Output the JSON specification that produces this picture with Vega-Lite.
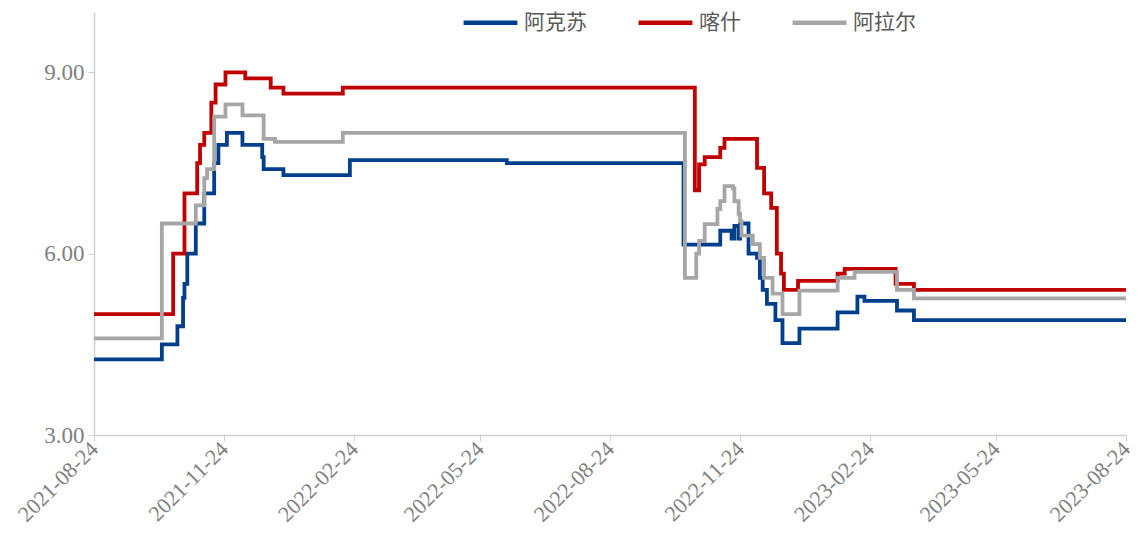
{
  "$schema": "https://vega.github.io/schema/vega-lite/v6.json",
  "autosize": {"type": "none"},
  "padding": {"left": 94, "top": 12, "right": 11, "bottom": 111},
  "width": 1032,
  "height": 423,
  "background": "white",
  "config": {"view": {"stroke": null}},
  "datasets": {
    "s": [
      {"date": "2021-08-24", "city": "阿克苏", "v": 4.25},
      {"date": "2021-10-11", "city": "阿克苏", "v": 4.5},
      {"date": "2021-10-22", "city": "阿克苏", "v": 4.8},
      {"date": "2021-10-26", "city": "阿克苏", "v": 5.27},
      {"date": "2021-10-27", "city": "阿克苏", "v": 5.5},
      {"date": "2021-10-29", "city": "阿克苏", "v": 6.0},
      {"date": "2021-11-04", "city": "阿克苏", "v": 6.5},
      {"date": "2021-11-10", "city": "阿克苏", "v": 7.0},
      {"date": "2021-11-17", "city": "阿克苏", "v": 7.5},
      {"date": "2021-11-20", "city": "阿克苏", "v": 7.8},
      {"date": "2021-11-26", "city": "阿克苏", "v": 8.0},
      {"date": "2021-12-07", "city": "阿克苏", "v": 7.8},
      {"date": "2021-12-21", "city": "阿克苏", "v": 7.6},
      {"date": "2021-12-22", "city": "阿克苏", "v": 7.4},
      {"date": "2022-01-05", "city": "阿克苏", "v": 7.3},
      {"date": "2022-02-21", "city": "阿克苏", "v": 7.55},
      {"date": "2022-06-12", "city": "阿克苏", "v": 7.5},
      {"date": "2022-10-15", "city": "阿克苏", "v": 6.15},
      {"date": "2022-11-10", "city": "阿克苏", "v": 6.38},
      {"date": "2022-11-18", "city": "阿克苏", "v": 6.25},
      {"date": "2022-11-20", "city": "阿克苏", "v": 6.46},
      {"date": "2022-11-23", "city": "阿克苏", "v": 6.25},
      {"date": "2022-11-24", "city": "阿克苏", "v": 6.5},
      {"date": "2022-11-30", "city": "阿克苏", "v": 6.0},
      {"date": "2022-12-06", "city": "阿克苏", "v": 5.93},
      {"date": "2022-12-08", "city": "阿克苏", "v": 5.6},
      {"date": "2022-12-10", "city": "阿克苏", "v": 5.4},
      {"date": "2022-12-13", "city": "阿克苏", "v": 5.17},
      {"date": "2022-12-19", "city": "阿克苏", "v": 4.9},
      {"date": "2022-12-24", "city": "阿克苏", "v": 4.52},
      {"date": "2023-01-05", "city": "阿克苏", "v": 4.76},
      {"date": "2023-02-01", "city": "阿克苏", "v": 5.03},
      {"date": "2023-02-15", "city": "阿克苏", "v": 5.29},
      {"date": "2023-02-20", "city": "阿克苏", "v": 5.22},
      {"date": "2023-03-15", "city": "阿克苏", "v": 5.06},
      {"date": "2023-03-27", "city": "阿克苏", "v": 4.9},
      {"date": "2023-08-24", "city": "阿克苏", "v": 4.9},

      {"date": "2021-08-24", "city": "喀什", "v": 5.0},
      {"date": "2021-10-19", "city": "喀什", "v": 6.0},
      {"date": "2021-10-27", "city": "喀什", "v": 7.0},
      {"date": "2021-11-05", "city": "喀什", "v": 7.5},
      {"date": "2021-11-07", "city": "喀什", "v": 7.8},
      {"date": "2021-11-10", "city": "喀什", "v": 8.0},
      {"date": "2021-11-15", "city": "喀什", "v": 8.5},
      {"date": "2021-11-18", "city": "喀什", "v": 8.8},
      {"date": "2021-11-25", "city": "喀什", "v": 9.0},
      {"date": "2021-12-09", "city": "喀什", "v": 8.9},
      {"date": "2021-12-27", "city": "喀什", "v": 8.75},
      {"date": "2022-01-05", "city": "喀什", "v": 8.65},
      {"date": "2022-02-16", "city": "喀什", "v": 8.75},
      {"date": "2022-10-23", "city": "喀什", "v": 7.05},
      {"date": "2022-10-26", "city": "喀什", "v": 7.48},
      {"date": "2022-10-30", "city": "喀什", "v": 7.6},
      {"date": "2022-11-10", "city": "喀什", "v": 7.75},
      {"date": "2022-11-13", "city": "喀什", "v": 7.9},
      {"date": "2022-12-06", "city": "喀什", "v": 7.42},
      {"date": "2022-12-11", "city": "喀什", "v": 7.0},
      {"date": "2022-12-16", "city": "喀什", "v": 6.76},
      {"date": "2022-12-20", "city": "喀什", "v": 6.0},
      {"date": "2022-12-23", "city": "喀什", "v": 5.67},
      {"date": "2022-12-25", "city": "喀什", "v": 5.4},
      {"date": "2023-01-04", "city": "喀什", "v": 5.55},
      {"date": "2023-02-01", "city": "喀什", "v": 5.67},
      {"date": "2023-02-06", "city": "喀什", "v": 5.75},
      {"date": "2023-03-14", "city": "喀什", "v": 5.5},
      {"date": "2023-03-27", "city": "喀什", "v": 5.4},
      {"date": "2023-08-24", "city": "喀什", "v": 5.4},

      {"date": "2021-08-24", "city": "阿拉尔", "v": 4.6},
      {"date": "2021-10-11", "city": "阿拉尔", "v": 6.5},
      {"date": "2021-11-04", "city": "阿拉尔", "v": 6.8},
      {"date": "2021-11-10", "city": "阿拉尔", "v": 7.25},
      {"date": "2021-11-12", "city": "阿拉尔", "v": 7.4},
      {"date": "2021-11-17", "city": "阿拉尔", "v": 8.27},
      {"date": "2021-11-25", "city": "阿拉尔", "v": 8.47},
      {"date": "2021-12-07", "city": "阿拉尔", "v": 8.29},
      {"date": "2021-12-22", "city": "阿拉尔", "v": 7.9},
      {"date": "2021-12-30", "city": "阿拉尔", "v": 7.85},
      {"date": "2022-02-16", "city": "阿拉尔", "v": 8.0},
      {"date": "2022-10-16", "city": "阿拉尔", "v": 5.6},
      {"date": "2022-10-24", "city": "阿拉尔", "v": 6.0},
      {"date": "2022-10-26", "city": "阿拉尔", "v": 6.21},
      {"date": "2022-10-30", "city": "阿拉尔", "v": 6.49},
      {"date": "2022-11-08", "city": "阿拉尔", "v": 6.74},
      {"date": "2022-11-10", "city": "阿拉尔", "v": 6.87},
      {"date": "2022-11-13", "city": "阿拉尔", "v": 7.12},
      {"date": "2022-11-19", "city": "阿拉尔", "v": 7.08},
      {"date": "2022-11-20", "city": "阿拉尔", "v": 6.87},
      {"date": "2022-11-23", "city": "阿拉尔", "v": 6.66},
      {"date": "2022-11-24", "city": "阿拉尔", "v": 6.54},
      {"date": "2022-11-25", "city": "阿拉尔", "v": 6.3},
      {"date": "2022-12-03", "city": "阿拉尔", "v": 6.16},
      {"date": "2022-12-08", "city": "阿拉尔", "v": 5.93},
      {"date": "2022-12-11", "city": "阿拉尔", "v": 5.6},
      {"date": "2022-12-17", "city": "阿拉尔", "v": 5.34},
      {"date": "2022-12-24", "city": "阿拉尔", "v": 5.0},
      {"date": "2023-01-05", "city": "阿拉尔", "v": 5.39},
      {"date": "2023-02-01", "city": "阿拉尔", "v": 5.6},
      {"date": "2023-02-13", "city": "阿拉尔", "v": 5.7},
      {"date": "2023-03-15", "city": "阿拉尔", "v": 5.4},
      {"date": "2023-03-27", "city": "阿拉尔", "v": 5.26},
      {"date": "2023-08-24", "city": "阿拉尔", "v": 5.26}
    ]
  },
  "data": {"name": "s"},
  "mark": {"type": "line", "interpolate": "step-after", "strokeWidth": 3.8, "strokeJoin": "miter"},
  "encoding": {
    "x": {
      "field": "date",
      "type": "temporal",
      "scale": {
        "type": "utc",
        "domain": [
          {"year": 2021, "month": 8, "date": 24, "utc": true},
          {"year": 2023, "month": 8, "date": 24, "utc": true}
        ]
      },
      "axis": {
        "title": null,
        "values": [
          {"year": 2021, "month": 8, "date": 24, "utc": true},
          {"year": 2021, "month": 11, "date": 24, "utc": true},
          {"year": 2022, "month": 2, "date": 24, "utc": true},
          {"year": 2022, "month": 5, "date": 24, "utc": true},
          {"year": 2022, "month": 8, "date": 24, "utc": true},
          {"year": 2022, "month": 11, "date": 24, "utc": true},
          {"year": 2023, "month": 2, "date": 24, "utc": true},
          {"year": 2023, "month": 5, "date": 24, "utc": true},
          {"year": 2023, "month": 8, "date": 24, "utc": true}
        ],
        "labelExpr": "utcFormat(datum.value, '%Y-%m-%d')",
        "labelAngle": -45,
        "labelAlign": "right",
        "labelBaseline": "middle",
        "labelFont": "Liberation Serif",
        "labelFontSize": 22,
        "labelColor": "#808080",
        "labelPadding": 4,
        "labelOverlap": false,
        "labelFlush": false,
        "domainColor": "#d0d0d0",
        "domainWidth": 1.5,
        "tickColor": "#d0d0d0",
        "tickSize": 6,
        "grid": false
      }
    },
    "y": {
      "field": "v",
      "type": "quantitative",
      "scale": {"domain": [3, 10], "nice": false, "zero": false},
      "axis": {
        "title": null,
        "values": [3, 6, 9],
        "format": ".2f",
        "labelFont": "Liberation Serif",
        "labelFontSize": 23,
        "labelColor": "#808080",
        "labelPadding": 4,
        "domainColor": "#d0d0d0",
        "domainWidth": 1.5,
        "tickColor": "#d0d0d0",
        "tickSize": 6,
        "grid": false
      }
    },
    "color": {
      "field": "city",
      "type": "nominal",
      "scale": {"domain": ["阿克苏", "喀什", "阿拉尔"], "range": ["#003f8c", "#c00000", "#a6a6a6"]},
      "legend": {
        "title": null,
        "orient": "none",
        "legendX": 367,
        "legendY": -19,
        "direction": "horizontal",
        "symbolType": "stroke",
        "symbolSize": 2900,
        "symbolStrokeWidth": 4.5,
        "labelFont": "Noto Sans CJK SC",
        "labelFontSize": 21,
        "labelColor": "#595959",
        "labelOffset": 4,
        "columnPadding": 42
      }
    }
  }
}
